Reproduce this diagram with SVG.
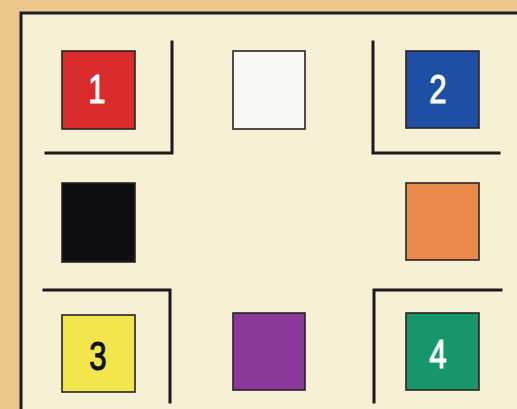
<svg xmlns="http://www.w3.org/2000/svg" width="517" height="409" viewBox="0 0 517 409">
<style>
.sq{stroke:#2a2226;stroke-width:1.6}
.br{fill:none;stroke:#1c1a1c;stroke-width:3;stroke-linecap:square}
.num{font-family:"Liberation Sans",Arial,sans-serif;font-size:41px;text-anchor:middle;stroke-width:1.1}
.w{fill:#fff;stroke:#fff}
.k{fill:#111;stroke:#111}
</style>
<rect x="0" y="0" width="517" height="409" fill="#EDC88D"/>
<rect x="21" y="13" width="510" height="410" fill="#F6F1D5" stroke="#1e1c22" stroke-width="3"/>
<g id="connectors">
<polyline class="br" points="46,153 172,153 172,42"/>
<polyline class="br" points="373,42 373,153 499,153"/>
<polyline class="br" points="44,290 170,290 170,402"/>
<polyline class="br" points="374,402 374,290 501,290"/>
</g>
<g id="n1"><rect class="sq" x="62" y="51" width="73" height="78" fill="#D92A2C"/><text class="num w" transform="translate(97,103) scale(0.76,1)">1</text></g>
<g id="white"><rect class="sq" x="233" y="51" width="72" height="78" fill="#F8F8F6"/></g>
<g id="n2"><rect class="sq" x="406" y="51" width="73" height="77" fill="#1F4EA5"/><text class="num w" transform="translate(438,103) scale(0.76,1)">2</text></g>
<g id="black"><rect class="sq" x="62" y="183" width="73" height="79" fill="#0F0F12"/></g>
<g id="orange"><rect class="sq" x="406" y="183" width="73" height="77" fill="#EA8A4A"/></g>
<g id="n3"><rect class="sq" x="62" y="315" width="73" height="77" fill="#F2E64C"/><text class="num k" transform="translate(98,370) scale(0.76,1)">3</text></g>
<g id="purple"><rect class="sq" x="233" y="313" width="72" height="77" fill="#8B3A9C"/></g>
<g id="n4"><rect class="sq" x="406" y="313" width="73" height="77" fill="#18966B"/><text class="num w" transform="translate(438,368) scale(0.76,1)">4</text></g>
</svg>
